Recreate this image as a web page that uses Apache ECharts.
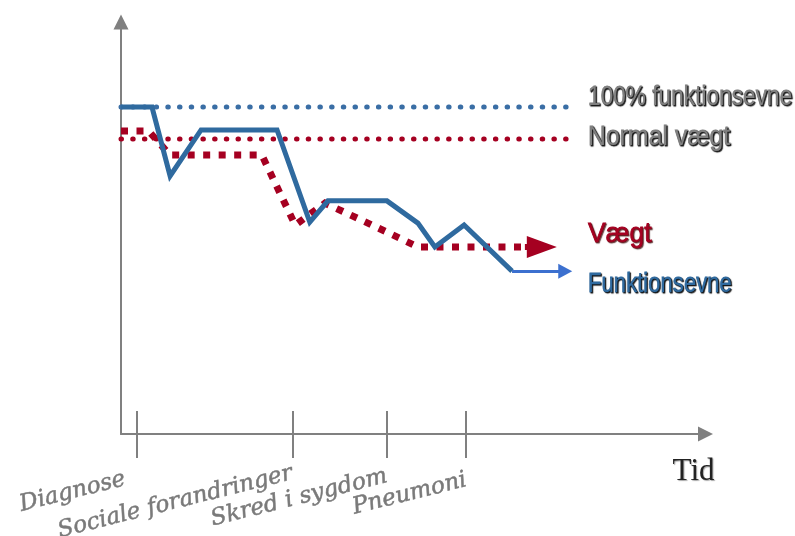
<!DOCTYPE html>
<html>
<head>
<meta charset="utf-8">
<script src="https://cdn.jsdelivr.net/npm/echarts@6/dist/echarts.min.js"></script>
<style>html,body{margin:0;padding:0;background:#fff;}#c{width:795px;height:536px;}</style>
</head>
<body>
<div id="c"></div>
<script>
// ---- data (x = time units 0..100, y = % of normal) ----
const tickValues = [2.7, 29.4, 45.5, 58.9];
const tickLabels = ['Diagnose', 'Sociale forandringer', 'Skred i sygdom', 'Pneumoni'];
const funkX = [0, 5.3, 8.4, 13.7, 26.7, 32.3, 35.4, 45.5, 50.8, 53.7, 58.7, 66.9];
const funkY = [100, 100, 78.9, 93.0, 93.0, 64.8, 71.3, 71.3, 64.5, 57.2, 63.9, 49.8];
const funkArrowEndX = 76.0;
const vaegtX = [0, 4.7, 8.4, 24.1, 29.8, 34.9, 42.6, 50.8, 69.1];
const vaegtY = [92.7, 92.7, 85.3, 85.3, 63.9, 70.6, 64.2, 57.2, 57.2];
const vaegtArrowEndX = 72.0;
const refFunk = 100;
const refVaegt = 90.2;
const refEndX = 76.5;
const refLabels = ['100% funktionsevne', 'Normal vægt'];
const seriesNames = ['Vægt', 'Funktionsevne'];
const axisTitle = 'Tid';

const BLUE = '#2F6A9F', BLUE_DOT = '#3A6EA5', BLUE_ARROW = '#3C70CF', RED = '#A50021', GREY = '#808080';

const zip = (xs, ys) => xs.map((x, i) => [x, ys[i]]);
const funkData = zip(funkX, funkY);
const vaegtData = zip(vaegtX, vaegtY);
// label slots: empty guards at the axis ends so no real label is treated as min/max label
const labelValues = [0].concat(tickValues, [100]);

const chart = echarts.init(document.getElementById('c'), null, {renderer: 'canvas'});
const gridCfg = {left: 121, right: 89.5, top: 22, bottom: 102, containLabel: false, outerBoundsMode: 'none'};
const richStyle = (pad) => ({fontFamily: 'DejaVu Serif', fontStyle: 'italic', fontSize: 23, color: '#7a7a7a',
  textBorderColor: '#7a7a7a', textBorderWidth: 0.5, padding: pad});
const keys = ['a', 'b', 'c', 'd'];

const option = {
  animation: false,
  grid: [Object.assign({}, gridCfg), Object.assign({}, gridCfg)],
  xAxis: [{
    type: 'value', gridIndex: 0, min: 0, max: 100,
    splitLine: {show: false},
    axisLine: {show: true, lineStyle: {color: GREY, width: 2}, symbol: ['none', 'triangle'], symbolSize: [15, 15]},
    axisTick: {show: true, inside: false, length: 24, lineStyle: {color: GREY, width: 2}, customValues: tickValues},
    axisLabel: {
      show: true, rotate: 14, margin: 42, customValues: labelValues, hideOverlap: false,
      showMinLabel: false, showMaxLabel: false,
      fontFamily: 'DejaVu Serif', fontStyle: 'italic', fontSize: 23, color: '#7a7a7a',
      formatter: (v) => { const i = tickValues.indexOf(v); return i < 0 ? '' : '{' + keys[i] + '|' + tickLabels[i] + '}'; },
      rich: {
        a: richStyle([0, 12, 0, 0]),
        b: richStyle([0, 0, 6, 0]),
        c: richStyle([0, 0, 0, 0]),
        d: richStyle([8, 0, 0, 0])
      }
    },
    name: axisTitle, nameLocation: 'end', nameGap: 9,
    nameTextStyle: {fontFamily: 'Liberation Serif', fontSize: 31, color: '#222', align: 'right', verticalAlign: 'top',
      padding: [22, 0, 0, 0], textShadowColor: 'rgba(0,0,0,0.35)', textShadowOffsetX: 1, textShadowOffsetY: 1, textShadowBlur: 1}
  }, {
    type: 'value', gridIndex: 1, min: 0, max: 100, position: 'bottom',
    splitLine: {show: false}, axisLine: {show: false}, axisLabel: {show: false},
    axisTick: {show: true, inside: true, length: 23, lineStyle: {color: GREY, width: 2}, customValues: tickValues}
  }],
  yAxis: [{
    type: 'value', gridIndex: 0, min: 0, max: 126,
    splitLine: {show: false}, axisTick: {show: false}, axisLabel: {show: false},
    axisLine: {show: true, lineStyle: {color: GREY, width: 2}, symbol: ['none', 'triangle'], symbolSize: [15, 15]}
  }, {
    type: 'value', gridIndex: 1, min: 0, max: 126, show: false
  }],
  series: [
    {
      name: refLabels[0], type: 'line', xAxisIndex: 0, yAxisIndex: 0, showSymbol: false, silent: true,
      data: [[0, refFunk], [refEndX, refFunk]],
      lineStyle: {color: BLUE_DOT, width: 5, type: [0.5, 11.2], cap: 'round'}
    },
    {
      name: refLabels[1], type: 'line', xAxisIndex: 0, yAxisIndex: 0, showSymbol: false, silent: true,
      data: [[0, refVaegt], [refEndX, refVaegt]],
      lineStyle: {color: RED, width: 5, type: [0.5, 11.2], cap: 'round'}
    },
    {
      name: seriesNames[0], type: 'line', xAxisIndex: 0, yAxisIndex: 0, showSymbol: false, silent: true,
      data: vaegtData,
      lineStyle: {color: RED, width: 7, type: [7, 8.5], cap: 'butt', join: 'miter'},
      markLine: {
        silent: true, animation: false, label: {show: false},
        lineStyle: {color: RED, width: 6, type: 'solid'},
        data: [[
          {coord: vaegtData[vaegtData.length - 1], symbol: 'none'},
          {coord: [vaegtArrowEndX, vaegtY[vaegtY.length - 1]], symbol: 'triangle', symbolSize: [22, 30]}
        ]]
      }
    },
    {
      name: seriesNames[1], type: 'line', xAxisIndex: 0, yAxisIndex: 0, showSymbol: false, silent: true,
      data: funkData,
      lineStyle: {color: BLUE, width: 5, join: 'miter'},
      markLine: {
        silent: true, animation: false, label: {show: false},
        lineStyle: {color: BLUE_ARROW, width: 3, type: 'solid'},
        data: [[
          {coord: funkData[funkData.length - 1], symbol: 'none'},
          {coord: [funkArrowEndX, funkY[funkY.length - 1]], symbol: 'triangle', symbolSize: [15, 14]}
        ]]
      }
    }
  ]
};
chart.setOption(option);

// text labels placed through the chart's own scales
const px = (p) => chart.convertToPixel({gridIndex: 0}, p);
const labelSpecs = [
  {text: refLabels[0], at: [79.9, 103.1], color: GREY, size: 28, sx: 0.81, shadow: 'rgba(0,0,0,0.9)'},
  {text: refLabels[1], at: [79.9, 90.8], color: GREY, size: 27, sx: 0.92, shadow: 'rgba(0,0,0,0.9)'},
  {text: seriesNames[0], at: [79.9, 61.2], color: RED, size: 28, sx: 0.95, shadow: 'rgba(60,0,0,0.7)'},
  {text: seriesNames[1], at: [79.9, 45.9], color: BLUE, size: 28, sx: 0.79, shadow: 'rgba(0,0,0,0.9)'}
];
chart.setOption({
  graphic: labelSpecs.map((s) => {
    const p = px(s.at);
    return {
      type: 'text', x: p[0], y: p[1], scaleX: s.sx, silent: true,
      style: {
        text: s.text, fill: s.color, fontSize: s.size, fontFamily: 'Liberation Sans',
        align: 'left', verticalAlign: 'middle',
        stroke: s.color, lineWidth: 0.8,
        textShadowColor: s.shadow, textShadowBlur: 1, textShadowOffsetX: 1, textShadowOffsetY: 1
      }
    };
  })
});
</script>
</body>
</html>
